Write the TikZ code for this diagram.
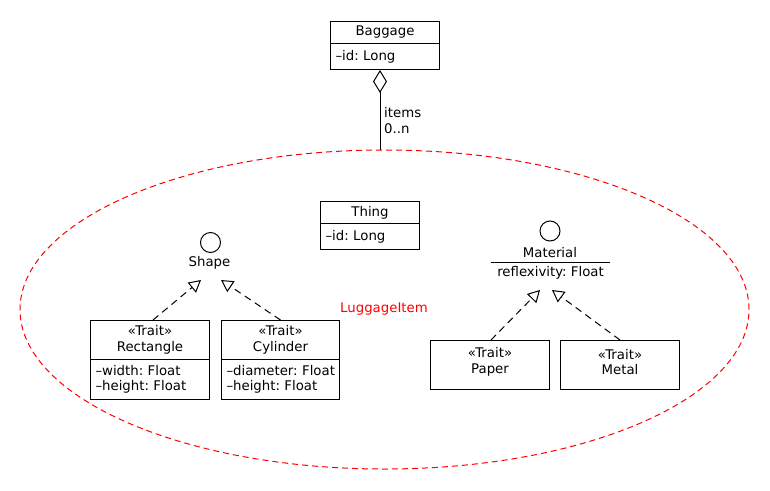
\documentclass[tikz,border=0pt]{standalone}
\usepackage{fontspec}
\setmainfont{DejaVu Sans}
\frenchspacing
\usetikzlibrary{arrows.meta,shapes.geometric}
\begin{document}
\begin{tikzpicture}[x=1pt,y=-1pt,
  every node/.style={font=\fontsize{13.3}{15.5}\selectfont\frenchspacing, inner sep=0pt},
  titlebox/.style={draw, line width=1pt, anchor=north west, align=center},
  attrbox/.style={draw, line width=1pt, anchor=north west, align=left, inner xsep=5pt},
  iface/.style={draw, line width=1pt, circle, minimum size=20pt},
  realize/.style={line width=1pt, dash pattern=on 7pt off 5pt, -{Triangle[open,length=12pt,width=13pt]}},
  aggr/.style={line width=1pt, {Diamond[open,length=23pt,width=14pt]}-}
]
\useasboundingbox (0,0) rectangle (770,490);
\fill[white] (0,0) rectangle (770,490);

% LuggageItem ellipse
\node[ellipse, draw=red, line width=1pt, dash pattern=on 6pt off 4pt,
      minimum width=729pt, minimum height=319pt] (luggage) at (384.5,309.5) {};
\node[text=red] (luglabel) at (384,309.5) {LuggageItem};

% Baggage
\node[titlebox, minimum width=109pt, minimum height=22pt] (bagT) at (330,21) {Baggage};
\node[attrbox, text width=99pt, minimum height=26pt] (bagA) at (330,43) {\textendash id: Long};

% aggregation
\coordinate (ellTop) at (380,150);
\draw[aggr] ([xshift=-5pt]bagA.south) -- (ellTop);
\node[anchor=west, align=left] (mult) at (384,120.5) {items\\0..n};

% Thing
\node[titlebox, minimum width=99pt, minimum height=22pt] (thingT) at (320,201) {Thing};
\node[attrbox, text width=89pt, minimum height=26pt] (thingA) at (320,223) {\textendash id: Long};

% Shape interface
\node[iface] (shapeI) at (210.5,242.5) {};
\node (shapeL) at (209.5,263) {Shape};
\coordinate (shapeTipL) at (201,280);
\coordinate (shapeTipR) at (221,280);

% Rectangle
\node[titlebox, minimum width=119pt, minimum height=39pt] (rectT) at (90,320) {«Trait»\\Rectangle};
\node[attrbox, text width=109pt, minimum height=40pt] (rectA) at (90,359) {\mbox{\textendash width: Float}\\\mbox{\textendash height: Float}};

% Cylinder
\node[titlebox, minimum width=118pt, minimum height=39pt] (cylT) at (221,320) {«Trait»\\Cylinder};
\node[attrbox, text width=108pt, minimum height=40pt] (cylA) at (221,359) {\mbox{\textendash diameter: Float}\\\mbox{\textendash height: Float}};

\draw[realize] ([xshift=3pt]rectT.north) -- (shapeTipL);
\draw[realize] (cylT.north) -- (shapeTipR);

% Material interface
\node[iface] (matI) at (550,231) {};
\node (matL) at (550,253) {Material};
\node[minimum width=119pt, minimum height=20pt] (matA) at (550.5,273) {reflexivity: Float};
\draw[line width=1pt] (matA.north west) -- (matA.north east);
\coordinate (matTipL) at (540,290);
\coordinate (matTipR) at (552,290);

% Paper and Metal
\node[titlebox, minimum width=119pt, minimum height=49pt] (paper) at (430,340) {};
\node[align=center, yshift=3pt] (paperL) at (paper.center) {«Trait»\\Paper};
\node[titlebox, minimum width=119pt, minimum height=49pt] (metal) at (560,340) {};
\node[align=center, yshift=3pt] (metalL) at (metal.center) {«Trait»\\Metal};

\draw[realize] ([xshift=1pt]paper.north) -- (matTipL);
\draw[realize] (metal.north) -- (matTipR);
\end{tikzpicture}
\end{document}
